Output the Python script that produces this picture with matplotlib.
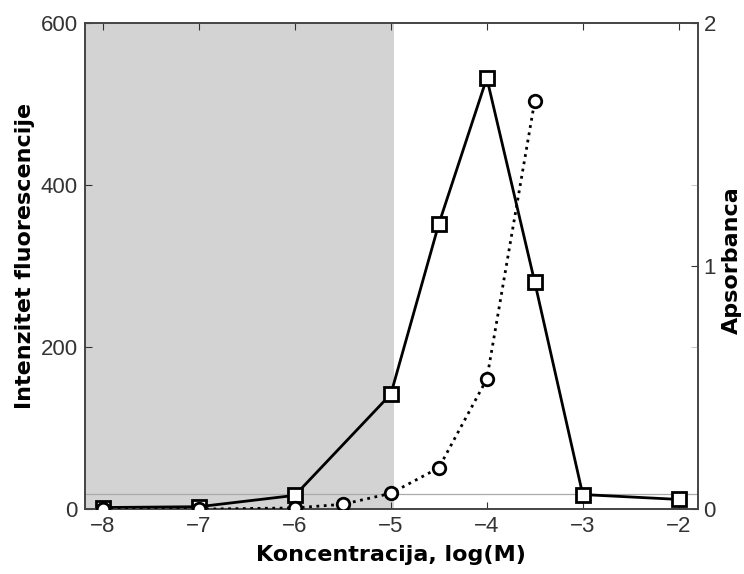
import matplotlib
matplotlib.use("Agg")
import matplotlib.pyplot as plt
import numpy as np

# data
conc_fluo = [-8, -7, -6, -5, -4.5, -4, -3.5, -3, -2]
fluorescence = [2, 3, 17, 142, 352, 532, 280, 18, 12]

conc_abs = [-8, -7, -6, -5.5, -5, -4.5, -4, -3.5]
absorbance = [0.0, 0.0, 0.005, 0.02, 0.065, 0.17, 0.535, 1.68]

shade_end = -4.97
baseline = 19

fig = plt.figure(figsize=(7.44, 5.74), dpi=100)
ax = fig.add_axes([0.114, 0.113, 0.824, 0.847])

ax.axvspan(-8.3, shade_end, color="#d3d3d3", lw=0, zorder=0)
ax.axhline(baseline, color="#aaaaaa", lw=0.9, zorder=1)

ax.plot(conc_fluo, fluorescence, color="black", lw=2, marker="s", ms=10,
        mfc="white", mec="black", mew=2, zorder=3)

ax.set_xlim(-8.19, -1.8)
ax.set_ylim(0, 600)
ax.set_xticks([-8, -7, -6, -5, -4, -3, -2])
ax.set_yticks([0, 200, 400, 600])
ax.tick_params(direction="in", top=True, right=False, labelsize=16,
               labelcolor="#333333", color="#333333", length=5, pad=5)

for s in ax.spines.values():
    s.set_color("#444444")
    s.set_linewidth(1.2)

ax.set_xlabel("Koncentracija, log(M)", fontsize=16, fontweight="bold",
              family="DejaVu Sans", labelpad=6)
ax.set_ylabel("Intenzitet fluorescencije", fontsize=16, fontweight="bold",
              family="DejaVu Sans")
ax.yaxis.set_label_coords(-0.082, 0.52)
for lbl in ax.get_xticklabels() + ax.get_yticklabels():
    lbl.set_family("Liberation Sans")

ax2 = ax.twinx()
ax2.plot(conc_abs, absorbance, color="black", lw=2, ls=":", marker="o", ms=9,
         mfc="white", mec="black", mew=2, zorder=3)
ax2.set_ylim(0, 2)
ax2.set_yticks([0, 1, 2])
ax2.set_yticks([2 / 3, 4 / 3], minor=True)
ax2.tick_params(direction="in", labelsize=16, labelcolor="#333333",
                color="#333333", length=5, pad=4)
ax2.tick_params(which="minor", direction="in", color="#bbbbbb", length=5)
for lbl in ax2.get_yticklabels():
    lbl.set_family("Liberation Sans")
ax2.set_ylabel("Apsorbanca", fontsize=16, fontweight="bold",
               family="DejaVu Sans")
ax2.yaxis.set_label_coords(1.039, 0.512)
for s in ax2.spines.values():
    s.set_color("#444444")
    s.set_linewidth(1.2)

fig.savefig("out.png", dpi=100)
